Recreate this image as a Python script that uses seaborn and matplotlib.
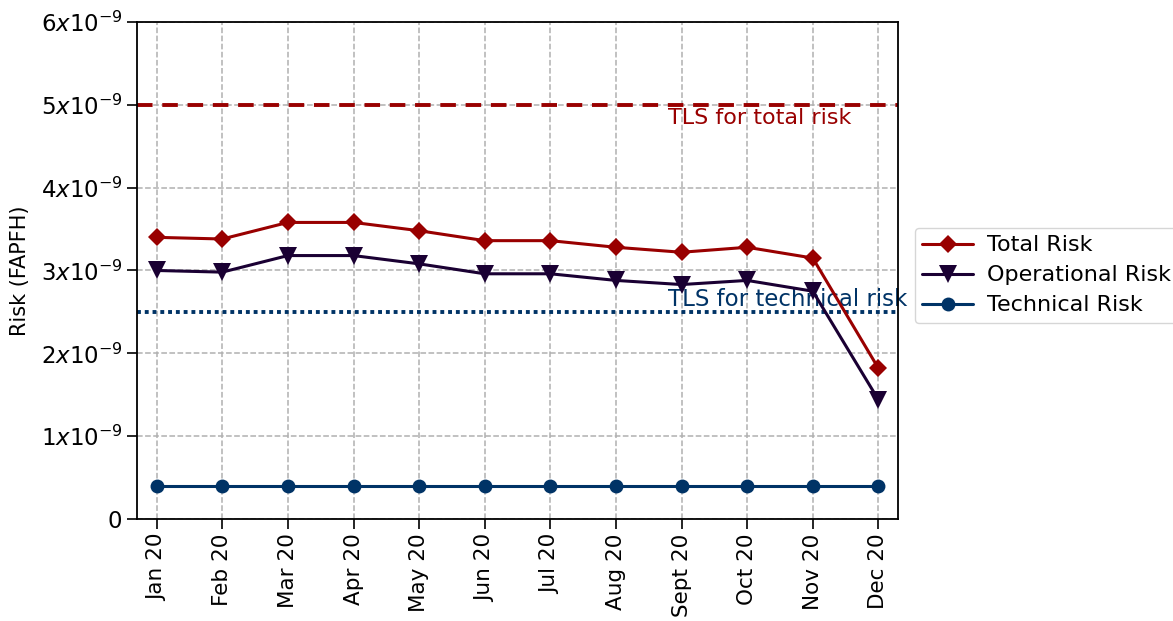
import matplotlib
matplotlib.use("Agg")
import matplotlib.pyplot as plt
import seaborn as sns
import pandas as pd
import numpy as np

months = ["Jan 20", "Feb 20", "Mar 20", "Apr 20", "May 20", "Jun 20", "Jul 20",
          "Aug 20", "Sept 20", "Oct 20", "Nov 20", "Dec 20"]
total_risk = [3.40, 3.38, 3.58, 3.58, 3.48, 3.36, 3.36, 3.28, 3.22, 3.28, 3.15, 1.82]
operational_risk = [3.00, 2.98, 3.18, 3.18, 3.08, 2.96, 2.96, 2.88, 2.83, 2.88, 2.75, 1.44]
technical_risk = [0.40] * 12
tls_total = 5.0
tls_technical = 2.5
scale = 1e-9
ytick_vals = [0, 1, 2, 3, 4, 5, 6]
ytick_labels = ["0", r"$1x10^{-9}$", r"$2x10^{-9}$", r"$3x10^{-9}$",
                r"$4x10^{-9}$", r"$5x10^{-9}$", r"$6x10^{-9}$"]

series_names = ["Total Risk", "Operational Risk", "Technical Risk"]
series_vals = [total_risk, operational_risk, technical_risk]
colors = {"Total Risk": "#990000", "Operational Risk": "#1a0033", "Technical Risk": "#003366"}
markers = {"Total Risk": "D", "Operational Risk": "v", "Technical Risk": "o"}
msizes = {"Total Risk": 9.5, "Operational Risk": 13, "Technical Risk": 10}

rows = []
for name, vals in zip(series_names, series_vals):
    for i, v in enumerate(vals):
        rows.append({"idx": i, "month": months[i], "risk": v * scale, "series": name})
df = pd.DataFrame(rows)

sns.set_style("white")
plt.rcParams["font.family"] = ["DejaVu Sans"]
plt.rcParams["mathtext.fontset"] = "dejavusans"
plt.rcParams["text.color"] = "black"
plt.rcParams["axes.labelcolor"] = "black"
plt.rcParams["xtick.color"] = "black"
plt.rcParams["ytick.color"] = "black"

fig = plt.figure(figsize=(11.73, 6.21), dpi=100)
ax = fig.add_axes([0.1168, 0.1643, 0.6488, 0.8003])

for name in series_names:
    sub = df[df["series"] == name]
    sns.lineplot(data=sub, x="idx", y="risk", ax=ax, color=colors[name],
                 marker=markers[name], markersize=msizes[name], linewidth=2.2,
                 markeredgewidth=0, label=name, zorder=3)

ax.axhline(tls_total * scale, color="#990000", ls=(0, (4, 2.5)), lw=2.8, zorder=2)
ax.axhline(tls_technical * scale, color="#003366", ls=(0, (1, 1)), lw=2.8, zorder=2)
ax.text(7.8, 4.77 * scale, "TLS for total risk", color="#990000", fontsize=16, zorder=1)
ax.text(7.8, 2.57 * scale, "TLS for technical risk", color="#003366", fontsize=16.5, zorder=1)

ax.set_xlim(-0.3, 11.3)
ax.set_ylim(0, 6 * scale)
ax.set_xticks(range(len(months)))
ax.set_xticklabels(months, rotation=90, fontsize=15.5)
ax.set_yticks([v * scale for v in ytick_vals])
ax.set_yticklabels(ytick_labels, fontsize=16.5)
ax.set_xlabel("")
ax.set_ylabel("Risk (FAPFH)", fontsize=15)
ax.yaxis.set_label_coords(-0.14, 0.5)
ax.grid(True, ls="--", color="#b0b0b0", lw=1.1)
ax.tick_params(axis="both", direction="out", length=7, width=1.2, bottom=True, left=True)
for s in ax.spines.values():
    s.set_color("black")
    s.set_linewidth(1.3)

leg = ax.legend(loc="center left", bbox_to_anchor=(1.013, 0.49), fontsize=16,
                frameon=True, handlelength=2.3, borderpad=0.35, labelspacing=0.45,
                handletextpad=0.6, borderaxespad=0.3)
leg.get_frame().set_edgecolor("#cccccc")
leg.set_zorder(5)

fig.savefig("out.png", dpi=100)
